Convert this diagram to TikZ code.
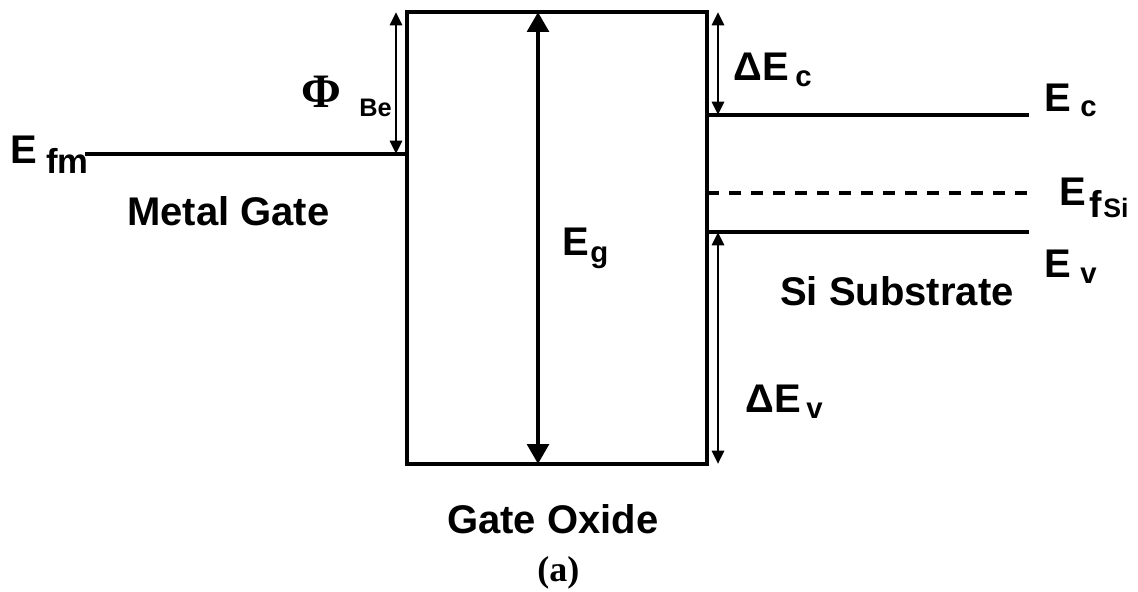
\documentclass[tikz,border=0pt]{standalone}
\usepackage{fontspec}
\setmainfont{Liberation Sans}
\newfontfamily\greekserif{Liberation Serif}
\usetikzlibrary{arrows.meta,positioning}

\begin{document}
\begin{tikzpicture}[x=0.75pt,y=-0.75pt,
        lbl/.style={font=\fontsize{30}{34}\selectfont\bfseries, inner sep=0pt, anchor=base west},
        sublbl/.style={font=\fontsize{22}{26}\selectfont\bfseries, inner sep=0pt, anchor=base west},
        band/.style={line width=3pt},
        gap/.style={line width=2.2pt, {Triangle[length=10pt,width=9pt]}-{Triangle[length=10pt,width=9pt]}},
        biggap/.style={line width=3.6pt, {Triangle[length=15pt,width=16pt]}-{Triangle[length=15pt,width=16pt]}}]
    \useasboundingbox (0,0) rectangle (1138,592);
    % oxide box and band edges
    \coordinate (ox-tl) at (407,12);
    \coordinate (ox-br) at (707,464);
    \coordinate (fm-l) at (85,154);
    \coordinate (fm-r) at (407,154);
    \coordinate (ec-l) at (707,115);
    \coordinate (ec-r) at (1029,115);
    \coordinate (fsi-l) at (707,193);
    \coordinate (fsi-r) at (1029,193);
    \coordinate (ev-l) at (707,232);
    \coordinate (ev-r) at (1029,232);
    \draw[band] (ox-tl) rectangle (ox-br);
    \draw[band] (fm-l) -- (fm-r);
    \draw[band] (ec-l) -- (ec-r);
    \draw[band, dash pattern=on 9pt off 7.5pt] (fsi-l) -- (fsi-r);
    \draw[band] (ev-l) -- (ev-r);
    % offsets
    \coordinate (phi-t) at (396,12);
    \coordinate (phi-b) at (396,154);
    \coordinate (eg-t) at (538,12);
    \coordinate (eg-b) at (538,464);
    \coordinate (dec-t) at (718,12);
    \coordinate (dec-b) at (718,115);
    \coordinate (dev-t) at (718,232);
    \coordinate (dev-b) at (718,464);
    \draw[gap] (phi-t) -- (phi-b);
    \draw[biggap] (eg-t) -- (eg-b);
    \draw[gap] (dec-t) -- (dec-b);
    \draw[gap] (dev-t) -- (dev-b);
    % labels
    \node[lbl] (efm-e) at (10,163) {E};
    \node[lbl, font=\fontsize{26}{30}\selectfont\bfseries] (efm-s) at (46,173) {fm};
    \node[lbl] (metal) at (127,225) {Metal Gate};
    \node[lbl, font=\fontsize{36}{40}\selectfont\greekserif\bfseries] (phi) at (301,108) {Φ};
    \node[sublbl, font=\fontsize{19}{22}\selectfont\bfseries] (phi-s) at (359,116) {Be};
    \node[lbl] (eg-e) at (562,255) {E};
    \node[sublbl] (eg-s) at (590,262) {g};
    \node[lbl] (dec-e) at (733,80) {ΔE};
    \node[sublbl] (dec-s) at (795,86) {c};
    \node[lbl] (ec-e) at (1044,112) {E};
    \node[sublbl] (ec-s) at (1080,117) {c};
    \node[lbl] (fsi-e) at (1059,205) {E};
    \node[lbl, font=\fontsize{28}{30}\selectfont\bfseries] (fsi-f) at (1089,217) {f};
    \node[sublbl, font=\fontsize{20}{24}\selectfont\bfseries] (fsi-s) at (1103,217) {Si};
    \node[lbl] (ev-e) at (1044,277) {E};
    \node[sublbl] (ev-s) at (1080,283) {v};
    \node[lbl] (subst) at (780,305) {Si Substrate};
    \node[lbl] (dev-e) at (745,412) {ΔE};
    \node[sublbl] (dev-s) at (806,418) {v};
    \node[lbl] (oxide) at (447,533) {Gate Oxide};
    \node[lbl, font=\fontsize{27}{30}\selectfont\greekserif\bfseries] (caption) at (537,581) {(a)};
\end{tikzpicture}
\end{document}
